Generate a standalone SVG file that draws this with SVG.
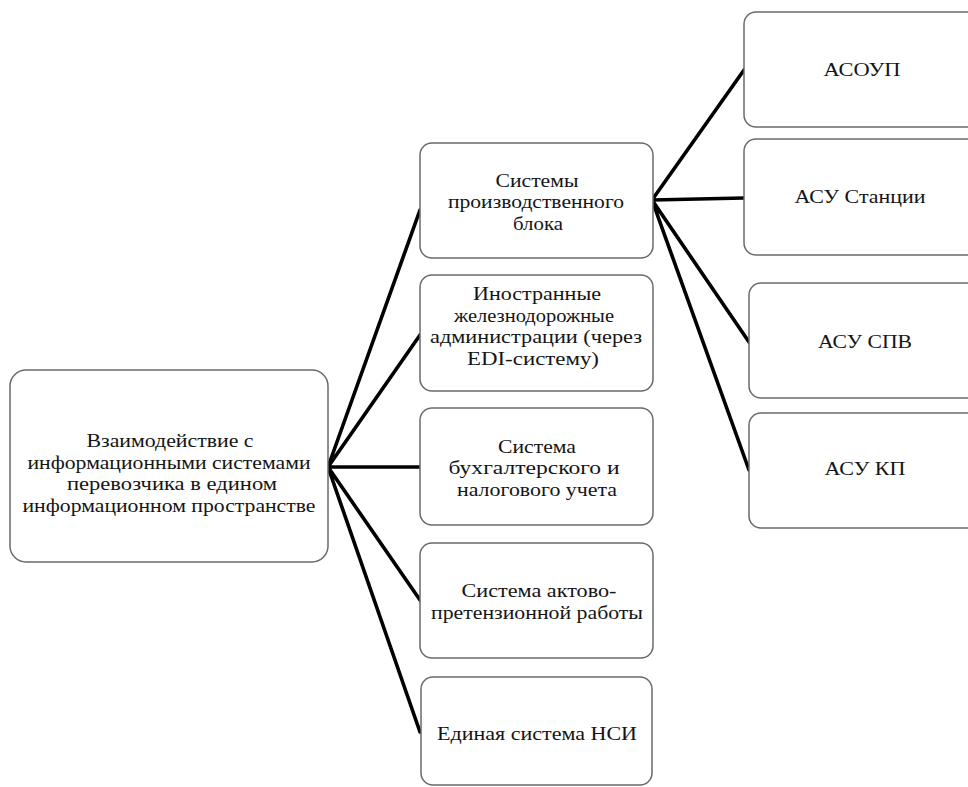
<svg xmlns="http://www.w3.org/2000/svg" width="968" height="787" viewBox="0 0 968 787">
<style>
.box{fill:#fff;stroke:#6a6a6a;stroke-width:1.5}
.t{font-family:'Liberation Serif','Times New Roman',serif;font-size:19px;fill:#151515;text-anchor:middle}
.c{stroke:#000;stroke-width:3.6;fill:none;stroke-linecap:round}
</style>
<rect width="968" height="787" fill="#fff"/>
<g id="connectors">
<path class="c" d="M328 467L420 210M328 467L420 335M328 467L420 467M328 467L420 600M328 467L420 732"/>
<path class="c" d="M652 200L744 70M652 200L744 198M652 200L749 342M652 200L749 470"/>
</g>
<g id="main">
<rect class="box" x="10" y="370" width="318" height="192" rx="16"/>
<text class="t"><tspan x="170" y="447" textLength="167" lengthAdjust="spacingAndGlyphs">Взаимодействие с</tspan><tspan x="169" y="468.5" textLength="283" lengthAdjust="spacingAndGlyphs">информационными системами</tspan><tspan x="172" y="490" textLength="210" lengthAdjust="spacingAndGlyphs">перевозчика в едином</tspan><tspan x="169" y="511.5" textLength="293" lengthAdjust="spacingAndGlyphs">информационном пространстве</tspan></text>
</g>
<g id="n1">
<rect class="box" x="420" y="143" width="233" height="115" rx="12"/>
<text class="t"><tspan x="537" y="186.5" textLength="83" lengthAdjust="spacingAndGlyphs">Системы</tspan><tspan x="536" y="208" textLength="176" lengthAdjust="spacingAndGlyphs">производственного</tspan><tspan x="538" y="229.5" textLength="50" lengthAdjust="spacingAndGlyphs">блока</tspan></text>
</g>
<g id="n2">
<rect class="box" x="420" y="275" width="233" height="116" rx="12"/>
<text class="t"><tspan x="537" y="300" textLength="128" lengthAdjust="spacingAndGlyphs">Иностранные</tspan><tspan x="534" y="321.5" textLength="160" lengthAdjust="spacingAndGlyphs">железнодорожные</tspan><tspan x="536" y="343" textLength="212" lengthAdjust="spacingAndGlyphs">администрации  (через</tspan><tspan x="533" y="364.5" textLength="132" lengthAdjust="spacingAndGlyphs">EDI-систему)</tspan></text>
</g>
<g id="n3">
<rect class="box" x="420" y="408" width="233" height="117" rx="12"/>
<text class="t"><tspan x="537" y="452.5" textLength="78" lengthAdjust="spacingAndGlyphs">Система</tspan><tspan x="534" y="474" textLength="171" lengthAdjust="spacingAndGlyphs">бухгалтерского и</tspan><tspan x="537" y="495.5" textLength="160" lengthAdjust="spacingAndGlyphs">налогового учета</tspan></text>
</g>
<g id="n4">
<rect class="box" x="420" y="543" width="233" height="115" rx="12"/>
<text class="t"><tspan x="539" y="597" textLength="155" lengthAdjust="spacingAndGlyphs">Система актово-</tspan><tspan x="537" y="618.5" textLength="212" lengthAdjust="spacingAndGlyphs">претензионной работы</tspan></text>
</g>
<g id="n5">
<rect class="box" x="421" y="677" width="231" height="108" rx="12"/>
<text class="t" x="537" y="740" textLength="200" lengthAdjust="spacingAndGlyphs">Единая система НСИ</text>
</g>
<g id="r1">
<rect class="box" x="744" y="12" width="236" height="115" rx="12"/>
<text class="t" x="862" y="76" textLength="77" lengthAdjust="spacingAndGlyphs">АСОУП</text>
</g>
<g id="r2">
<rect class="box" x="744" y="139" width="236" height="116" rx="12"/>
<text class="t" x="860" y="203" textLength="131" lengthAdjust="spacingAndGlyphs">АСУ Станции</text>
</g>
<g id="r3">
<rect class="box" x="749" y="283" width="236" height="115" rx="12"/>
<text class="t" x="865" y="348" textLength="94" lengthAdjust="spacingAndGlyphs">АСУ СПВ</text>
</g>
<g id="r4">
<rect class="box" x="749" y="413" width="236" height="115" rx="12"/>
<text class="t" x="865" y="475" textLength="81" lengthAdjust="spacingAndGlyphs">АСУ КП</text>
</g>
</svg>
